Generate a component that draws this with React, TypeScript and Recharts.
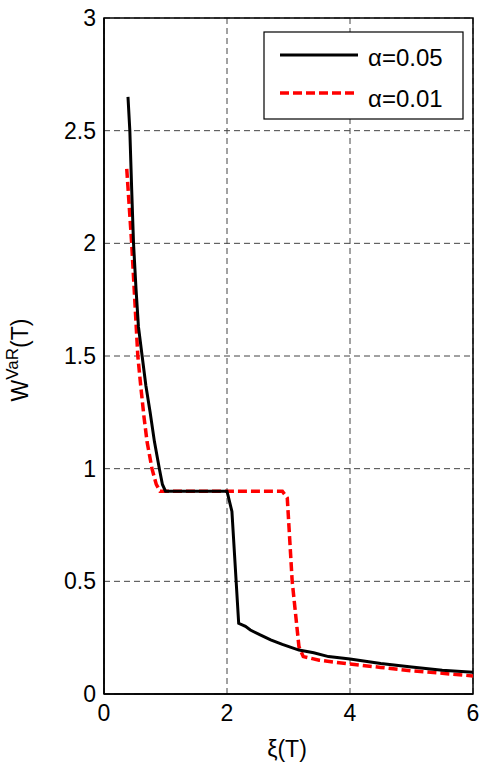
import React from 'react';
import { LineChart, Line, XAxis, YAxis, CartesianGrid, ReferenceArea } from 'recharts';

const xTicks = [0, 2, 4, 6];
const yTicks = [0, 0.5, 1, 1.5, 2, 2.5, 3];

const alpha05X = [0.39, 0.42, 0.45, 0.48, 0.52, 0.56, 0.62, 0.68, 0.75, 0.82, 0.9, 0.95, 1.0, 2.0, 2.08, 2.19, 2.3, 2.38, 2.54, 2.71, 2.9, 3.17, 3.41, 3.65, 4.0, 4.5, 5.0, 5.5, 6.0];
const alpha05Y = [2.65, 2.5, 2.24, 2.0, 1.8, 1.63, 1.5, 1.37, 1.25, 1.12, 1.0, 0.93, 0.9, 0.9, 0.81, 0.314, 0.3, 0.284, 0.262, 0.24, 0.22, 0.195, 0.183, 0.166, 0.155, 0.135, 0.12, 0.105, 0.096];

const alpha01X = [0.37, 0.45, 0.5, 0.55, 0.6, 0.65, 0.7, 0.78, 0.85, 0.91, 2.9, 2.98, 3.06, 3.17, 3.24, 3.5, 4.0, 4.5, 5.0, 5.5, 6.0];
const alpha01Y = [2.33, 2.0, 1.75, 1.5, 1.36, 1.23, 1.12, 1.0, 0.93, 0.9, 0.9, 0.87, 0.5, 0.21, 0.166, 0.15, 0.133, 0.118, 0.103, 0.092, 0.08];

const series05 = alpha05X.map((x, i) => ({ x, y: alpha05Y[i] }));
const series01 = alpha01X.map((x, i) => ({ x, y: alpha01Y[i] }));

const FONT = '"Liberation Sans", Arial, sans-serif';

export default function App() {
  return (
    <div style={{ position: 'absolute', left: 0, top: 0, width: 481, height: 769, background: '#fff' }}>
      <LineChart width={481} height={769} margin={{ top: 18, right: 8, bottom: 0, left: 0 }}>
        <CartesianGrid stroke="#444" strokeDasharray="6 4" strokeWidth={1} />
        <XAxis
          type="number"
          dataKey="x"
          domain={[0, 6]}
          ticks={xTicks}
          height={75}
          tickLine={false}
          tickMargin={5}
          axisLine={{ stroke: '#000', strokeWidth: 1.5 }}
          tick={{ fill: '#000', fontSize: 23, fontFamily: FONT }}
          allowDataOverflow
        />
        <YAxis
          type="number"
          dataKey="y"
          domain={[0, 3]}
          ticks={yTicks}
          width={104}
          tickLine={false}
          axisLine={{ stroke: '#000', strokeWidth: 1.5 }}
          tick={{ fill: '#000', fontSize: 23, fontFamily: FONT }}
          allowDataOverflow
        />
        <ReferenceArea x1={0} x2={6} y1={0} y2={3} fill="none" fillOpacity={0} stroke="#000" strokeWidth={1.5} />
        <Line data={series01} dataKey="y" type="linear" stroke="#ff0000" strokeWidth={3.5} strokeDasharray="9 4" dot={false} isAnimationActive={false} />
        <Line data={series05} dataKey="y" type="linear" stroke="#000" strokeWidth={3} dot={false} isAnimationActive={false} />
      </LineChart>
      <svg width={481} height={769} style={{ position: 'absolute', left: 0, top: 0, pointerEvents: 'none' }}>
        <g fontFamily={FONT} fill="#000">
          <rect x={264} y={32} width={199} height={87} fill="#fff" stroke="#000" strokeWidth={1.2} />
          <line x1={280} x2={358} y1={55} y2={55} stroke="#000" strokeWidth={3} />
          <line x1={280} x2={358} y1={93} y2={93} stroke="#ff0000" strokeWidth={3.5} strokeDasharray="9 4" />
          <text x={368} y={66} fontSize={24}>α=0.05</text>
          <text x={368} y={107} fontSize={24}>α=0.01</text>
          <text x={287} y={757} fontSize={23} textAnchor="middle">ξ(T)</text>
          <text transform="translate(28, 360) rotate(-90)" fontSize={23} textAnchor="middle">
            W<tspan fontSize={17} dy={-10}>VaR</tspan><tspan dy={10}>(T)</tspan>
          </text>
        </g>
      </svg>
    </div>
  );
}
